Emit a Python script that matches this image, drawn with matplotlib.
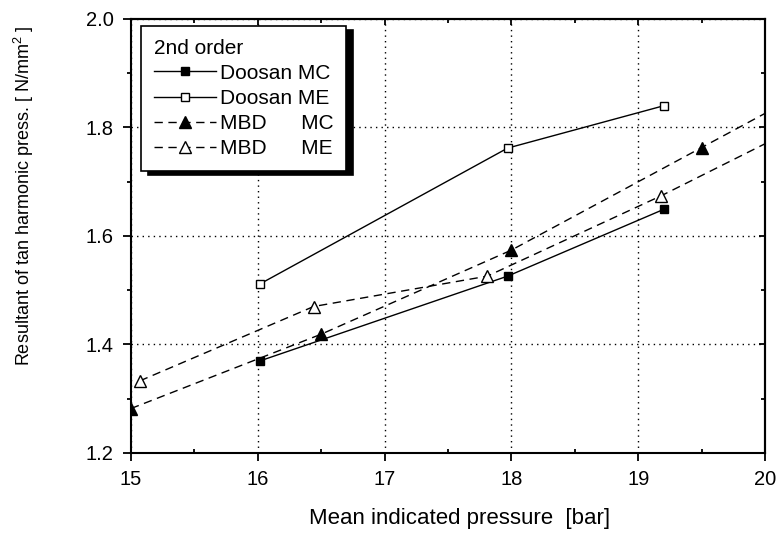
import matplotlib
matplotlib.use("Agg")
import matplotlib.pyplot as plt
from matplotlib.ticker import MultipleLocator, FormatStrFormatter

plt.rcParams['font.family'] = ['Liberation Sans', 'DejaVu Sans']
plt.rcParams['mathtext.fontset'] = 'custom'
plt.rcParams['mathtext.rm'] = 'Liberation Sans'

# ---- data ----
doosan_x = [16.02, 17.97, 19.20]
doosan_mc = [1.370, 1.526, 1.649]
doosan_me = [1.512, 1.762, 1.840]

mbd_mc_x = [15.00, 16.50, 18.00, 19.50, 20.00]
mbd_mc = [1.282, 1.419, 1.574, 1.763, 1.826]
mbd_me_x = [15.07, 16.44, 17.81, 19.18, 20.00]
mbd_me = [1.333, 1.470, 1.526, 1.674, 1.770]

labels = ["Doosan MC", "Doosan ME", "MBD      MC", "MBD      ME"]
legend_title = "2nd order"
xlabel = "Mean indicated pressure  [bar]"
ylabel = r"Resultant of tan harmonic press. [ N/mm$^2$ ]"

fig = plt.figure(figsize=(7.79, 5.33), dpi=100)
ax = fig.add_axes([131/779, 1-453/533, (765-131)/779, (453-19)/533])

dash = (0, (6, 4))
ax.plot(doosan_x, doosan_mc, '-', color='black', lw=1.0, marker='s', ms=6,
        mfc='black', mec='black', label=labels[0], zorder=3)
ax.plot(doosan_x, doosan_me, '-', color='black', lw=1.0, marker='s', ms=6,
        mfc='white', mec='black', mew=1.0, label=labels[1], zorder=3)
ax.plot(mbd_mc_x, mbd_mc, linestyle=dash, color='black', lw=1.0, marker='^', ms=8,
        mfc='black', mec='black', markevery=list(range(len(mbd_mc_x) - 1)),
        label=labels[2], zorder=3)
ax.plot(mbd_me_x, mbd_me, linestyle=dash, color='black', lw=1.0, marker='^', ms=8,
        mfc='white', mec='black', mew=1.0, markevery=list(range(len(mbd_me_x) - 1)),
        label=labels[3], zorder=3)

ax.set_xlim(15, 20)
ax.set_ylim(1.2, 2.0)
ax.xaxis.set_major_locator(MultipleLocator(1))
ax.xaxis.set_minor_locator(MultipleLocator(0.5))
ax.yaxis.set_major_locator(MultipleLocator(0.2))
ax.yaxis.set_minor_locator(MultipleLocator(0.1))
ax.yaxis.set_major_formatter(FormatStrFormatter('%.1f'))

ax.grid(True, which='major', color='black', linestyle=(0, (1, 3)), lw=1.0)

for s in ax.spines.values():
    s.set_linewidth(1.5)

ax.tick_params(axis='both', which='major', labelsize=14.5, width=1.3, length=6,
               direction='out', pad=6.5)
ax.tick_params(axis='y', which='minor', direction='out', length=3.2, width=1.3)
ax.tick_params(axis='x', which='minor', direction='in', length=3.2, width=1.3)

secx = ax.secondary_xaxis('top')
secx.xaxis.set_major_locator(MultipleLocator(1))
secx.xaxis.set_minor_locator(MultipleLocator(0.5))
secx.tick_params(which='both', direction='in', labeltop=False, width=1.3)
secx.tick_params(which='major', length=4)
secx.tick_params(which='minor', length=3.2)
secx.spines['top'].set_linewidth(1.5)

secy = ax.secondary_yaxis('right')
secy.yaxis.set_major_locator(MultipleLocator(0.2))
secy.yaxis.set_minor_locator(MultipleLocator(0.1))
secy.tick_params(which='both', direction='in', labelright=False, width=1.3)
secy.tick_params(which='major', length=4)
secy.tick_params(which='minor', length=3.2)
secy.spines['right'].set_linewidth(1.5)

ax.set_xlabel(xlabel, fontsize=16)
ax.set_ylabel(ylabel, fontsize=13)
ax.xaxis.set_label_coords(0.519, -0.127)
ax.yaxis.set_label_coords(-0.150, 0.592)

leg = ax.legend(title=legend_title, loc='upper left',
                bbox_to_anchor=((141-131)/634, (453-26)/434),
                borderaxespad=0, fontsize=15, title_fontsize=15,
                handlelength=3.0, handletextpad=0.2, labelspacing=0.3,
                borderpad=0.6, fancybox=False, framealpha=1, edgecolor='black',
                shadow={'color': 'black', 'alpha': 1, 'ox': 5, 'oy': -3})
leg._legend_box.align = 'left'
leg.get_frame().set_linewidth(1.2)

fig.savefig('out.png', dpi=100)
